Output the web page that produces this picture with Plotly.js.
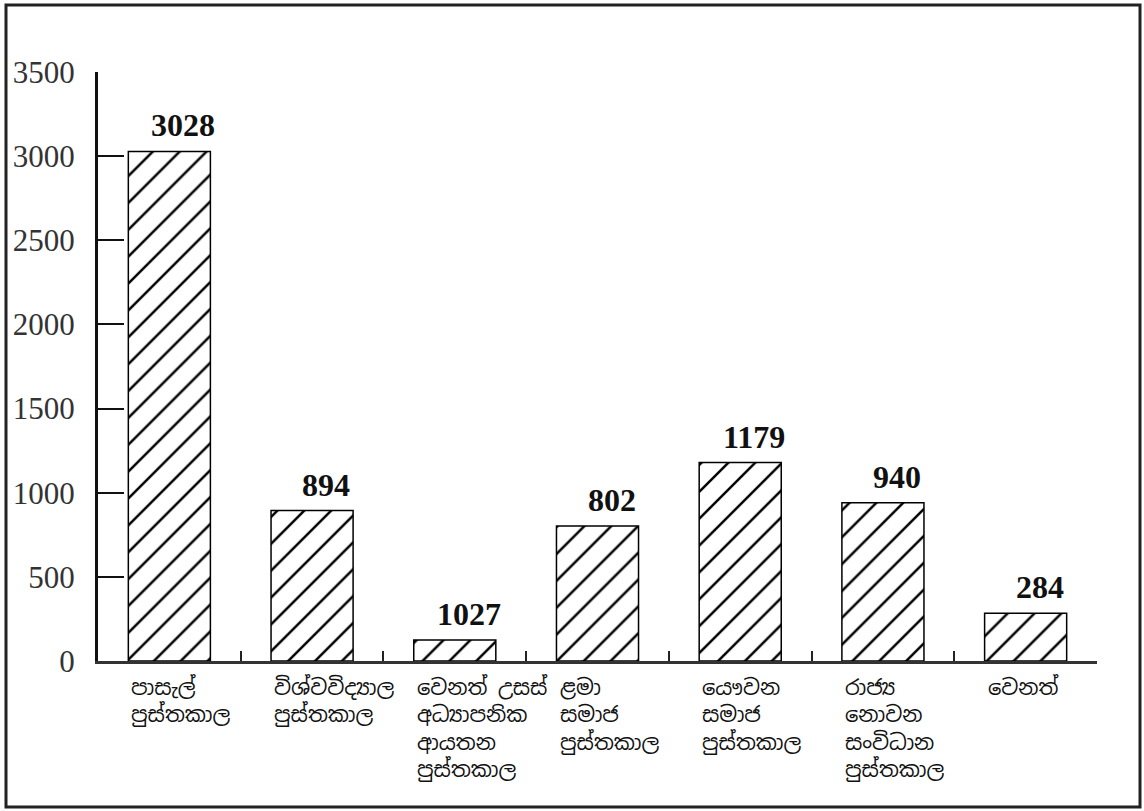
<!DOCTYPE html>
<html>
<head>
<meta charset="utf-8">
<script src="https://cdn.plot.ly/plotly-3.0.1.min.js"></script>
<style>
  html, body { margin: 0; padding: 0; background: #fff; }
  #chart { width: 1144px; height: 811px; }
</style>
</head>
<body>
<div id="chart"></div>
<script>
// ---- data ----
const categories = [
  "පාසැල්<br>පුස්තකාල",
  "විශ්වවිද්‍යාල<br>පුස්තකාල",
  "වෙනත් උසස්<br>අධ්‍යාපනික<br>ආයතන<br>පුස්තකාල",
  "ළමා<br>සමාජ<br>පුස්තකාල",
  "යෞවන<br>සමාජ<br>පුස්තකාල",
  "රාජ්‍ය<br>නොවන<br>සංවිධාන<br>පුස්තකාල",
  "වෙනත්"
];
const barHeights = [3028, 894, 125, 802, 1179, 940, 284];
const valueLabels = ["3028", "894", "1027", "802", "1179", "940", "284"];
const yTickValues = [0, 500, 1000, 1500, 2000, 2500, 3000, 3500];

// ---- layout helpers ----
const W = 1144, H = 811;
const M = { l: 98, r: 47, t: 72, b: 150 };
const pw = W - M.l - M.r, ph = H - M.t - M.b;
const px = x => (x - M.l) / pw;
const py = y => (H - M.b - y) / ph;

const keys = categories.map((_, i) => "c" + i);
const barWidth = 0.575;

const trace = {
  type: "bar",
  x: keys,
  y: barHeights,
  width: barWidth,
  marker: {
    color: "#ffffff",
    line: { color: "#000000", width: 1.5 },
    pattern: { shape: "/", size: 19, solidity: 0.13, fgcolor: "#000000", fgopacity: 1, bgcolor: "#ffffff", fillmode: "replace" }
  },
  hoverinfo: "none"
};

const annotations = [];
valueLabels.forEach((t, i) => {
  annotations.push({
    x: keys[i], y: barHeights[i], xref: "x", yref: "y",
    text: "<b>" + t + "</b>", showarrow: false,
    xanchor: "center", yanchor: "bottom", xshift: 14, yshift: 6,
    font: { family: "Liberation Serif, Times New Roman, serif", size: 32, color: "#111" }
  });
});
categories.forEach((c, i) => {
  annotations.push({
    x: keys[i], y: 0, xref: "x", yref: "y",
    text: c, showarrow: false, align: "left",
    xanchor: "left", yanchor: "top", xshift: -40, yshift: -11,
    font: { family: "Noto Sans Sinhala, Noto Sans, sans-serif", size: 21, color: "#111" }
  });
});

const layout = {
  width: W, height: H,
  margin: M,
  paper_bgcolor: "#ffffff",
  plot_bgcolor: "#ffffff",
  showlegend: false,
  xaxis: {
    type: "category",
    categoryorder: "array", categoryarray: keys,
    range: [-0.5, categories.length - 0.5],
    tickson: "boundaries",
    ticks: "inside", ticklen: 10, tickwidth: 2, tickcolor: "#222",
    showticklabels: false,
    showline: true, linecolor: "#333", linewidth: 3,
    showgrid: false, zeroline: false, fixedrange: true
  },
  yaxis: {
    range: [0, 3500],
    tickmode: "array", tickvals: yTickValues, ticktext: yTickValues.map(String),
    ticks: "inside", ticklen: 26, tickwidth: 2, tickcolor: "#111",
    ticklabelstandoff: 14,
    tickfont: { family: "Liberation Serif, Times New Roman, serif", size: 31, color: "#333" },
    showline: true, linecolor: "#111", linewidth: 3,
    showgrid: false, zeroline: false, fixedrange: true
  },
  annotations: annotations,
  shapes: [{
    type: "rect", xref: "paper", yref: "paper",
    x0: px(6), x1: px(1140), y0: py(807), y1: py(5),
    line: { color: "#222", width: 3 }, fillcolor: "rgba(0,0,0,0)", layer: "below"
  }]
};

Plotly.newPlot("chart", [trace], layout, { staticPlot: true, displayModeBar: false });
</script>
</body>
</html>
